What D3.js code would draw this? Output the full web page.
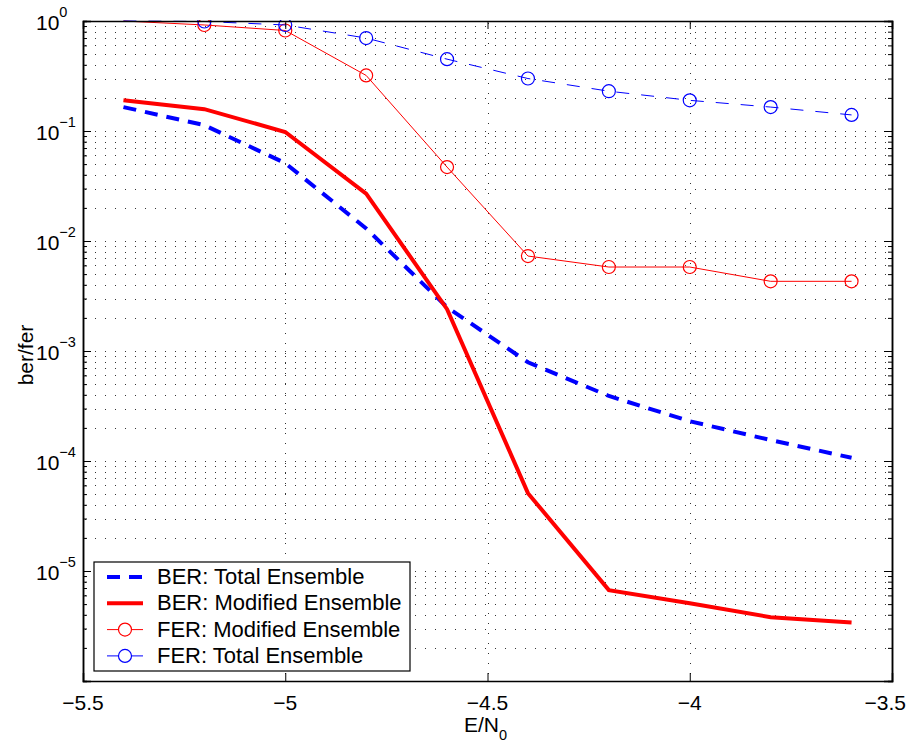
<!DOCTYPE html>
<html>
<head>
<meta charset="utf-8">
<script src="https://cdn.jsdelivr.net/npm/d3@7"></script>
<style>
  html, body { margin: 0; padding: 0; background: #fff; }
  svg text { font-family: "Liberation Sans", Arial, Helvetica, sans-serif; fill: #000; }
</style>
</head>
<body>
<svg id="chart" width="910" height="744"></svg>
<script>
// E/N0 sample points
var ebno = [-5.4, -5.2, -5.0, -4.8, -4.6, -4.4, -4.2, -4.0, -3.8, -3.6];

var berTotal    = [0.165, 0.113, 0.051, 0.013, 0.0025, 0.00079, 0.00039, 0.00023, 0.000155, 0.000107];
var berModified = [0.19, 0.158, 0.098, 0.027, 0.0024, 0.000051, 0.0000067, 0.0000051, 0.0000038, 0.0000034];
var ferModified = [1.0, 0.92, 0.82, 0.32, 0.047, 0.0073, 0.0058, 0.0058, 0.0043, 0.0043];
var ferTotal    = [1.0, 0.99, 0.92, 0.70, 0.45, 0.30, 0.23, 0.19, 0.165, 0.14];

var xTicks = [-5.5, -5, -4.5, -4, -3.5];
var yExponents = [0, -1, -2, -3, -4, -5, -6];

var seriesNames = ["BER: Total Ensemble", "BER: Modified Ensemble", "FER: Modified Ensemble", "FER: Total Ensemble"];

var pLeft = 83, pRight = 892, pTop = 21, pBottom = 681;

var svg = d3.select("#chart");

var x = d3.scaleLinear().domain([-5.5, -3.5]).range([pLeft, pRight]);
var y = d3.scaleLog().domain([1e-6, 1]).range([pBottom, pTop]);

// minor tick values for the log axis (2..9 in each decade)
var minorVals = [];
for (var d = -6; d < 0; d++) {
    for (var k = 2; k <= 9; k++) {
        minorVals.push(k * Math.pow(10, d));
    }
}
var majorVals = yExponents.map(function(e) { return Math.pow(10, e); });

// dotted grid
var grid = svg.append("g").attr("class", "grid")
    .attr("stroke", "#333")
    .attr("stroke-width", 1)
    .attr("stroke-dasharray", "1,9");

grid.selectAll("line.h")
    .data(minorVals.concat(majorVals.filter(function(v) { return v < 1 && v > 1e-6; })))
    .enter().append("line")
    .attr("x1", pLeft + 2).attr("x2", pRight)
    .attr("y1", function(v) { return Math.round(y(v)) + 0.5; })
    .attr("y2", function(v) { return Math.round(y(v)) + 0.5; });

grid.selectAll("line.v")
    .data(xTicks.slice(1, -1))
    .enter().append("line")
    .attr("y1", pTop + 2).attr("y2", pBottom)
    .attr("x1", function(v) { return Math.round(x(v)) + 0.5; })
    .attr("x2", function(v) { return Math.round(x(v)) + 0.5; });

// data lines
svg.append("clipPath").attr("id", "plotClip")
    .append("rect").attr("x", pLeft).attr("y", pTop - 1).attr("width", pRight - pLeft).attr("height", pBottom - pTop + 1);

var line = d3.line()
    .x(function(d) { return x(d[0]); })
    .y(function(d) { return y(d[1]); });

var series = [
    { values: berTotal,    color: "#0000ff", width: 4, dash: "13,9",  marker: false },
    { values: berModified, color: "#ff0000", width: 4, dash: null,    marker: false },
    { values: ferModified, color: "#ff0000", width: 1, dash: null,    marker: true },
    { values: ferTotal,    color: "#0000ff", width: 1, dash: "13,12", marker: true }
];

var plot = svg.append("g").attr("clip-path", "url(#plotClip)");

series.forEach(function(s) {
    var pts = ebno.map(function(e, i) { return [e, s.values[i]]; });
    plot.append("path")
        .datum(pts)
        .attr("fill", "none")
        .attr("stroke", s.color)
        .attr("stroke-width", s.width)
        .attr("stroke-dasharray", s.dash)
        .attr("d", line);
    if (s.marker) {
        plot.selectAll(null)
            .data(pts.filter(function(p) { return p[1] < 1; }))
            .enter().append("circle")
            .attr("cx", function(p) { return x(p[0]); })
            .attr("cy", function(p) { return y(p[1]); })
            .attr("r", 6.5)
            .attr("fill", "none")
            .attr("stroke", s.color)
            .attr("stroke-width", 1.2);
    }
});

// axes (ticks point inward, box all round)
var axes = svg.append("g").attr("class", "axes");

axes.append("g")
    .attr("transform", "translate(0," + pBottom + ")")
    .call(d3.axisBottom(x).tickValues(xTicks).tickSize(-8).tickFormat(""));
axes.append("g")
    .attr("transform", "translate(0," + pTop + ")")
    .call(d3.axisTop(x).tickValues(xTicks).tickSize(-8).tickFormat(""));
axes.append("g")
    .attr("transform", "translate(" + pLeft + ",0)")
    .call(d3.axisLeft(y).tickValues(majorVals).tickSize(-8).tickFormat(""));
axes.append("g")
    .attr("transform", "translate(" + pLeft + ",0)")
    .call(d3.axisLeft(y).tickValues(minorVals).tickSize(-4).tickFormat(""));
axes.append("g")
    .attr("transform", "translate(" + pRight + ",0)")
    .call(d3.axisRight(y).tickValues(majorVals).tickSize(-8).tickFormat(""));
axes.append("g")
    .attr("transform", "translate(" + pRight + ",0)")
    .call(d3.axisRight(y).tickValues(minorVals).tickSize(-4).tickFormat(""));

axes.selectAll("path.domain").attr("stroke", "#000").attr("stroke-width", 1.5);
axes.selectAll(".tick line").attr("stroke", "#000").attr("stroke-width", 1);

// x tick labels
svg.append("g").selectAll("text")
    .data(xTicks)
    .enter().append("text")
    .attr("x", function(v, i) { return i === xTicks.length - 1 ? 906 : x(v); })
    .attr("y", 710)
    .attr("text-anchor", function(v, i) { return i === xTicks.length - 1 ? "end" : "middle"; })
    .attr("font-size", 21)
    .text(function(v) { return String(v).replace("-", "\u2212"); });

// y tick labels: 10 with superscript exponent
var yl = svg.append("g").selectAll("text")
    .data(yExponents.slice(0, 6))
    .enter().append("text")
    .attr("x", 36)
    .attr("y", function(e) { return y(Math.pow(10, e)) + 9; })
    .attr("font-size", 21);
yl.append("tspan").text("10");
yl.append("tspan")
    .attr("font-size", 14.5)
    .attr("dy", -13.5)
    .text(function(e) { return e === 0 ? "0" : "\u2212" + Math.abs(e); });

// axis titles
var xt = svg.append("text")
    .attr("x", x(-4.5) - 2)
    .attr("y", 732)
    .attr("text-anchor", "middle")
    .attr("font-size", 21);
xt.append("tspan").text("E/N");
xt.append("tspan").attr("font-size", 14.5).attr("dy", 8).text("0");

svg.append("text")
    .attr("transform", "translate(33,355) rotate(-90)")
    .attr("text-anchor", "middle")
    .attr("font-size", 21)
    .text("ber/fer");

// legend
var legend = svg.append("g").attr("transform", "translate(94,562)");
legend.append("rect")
    .attr("width", 316).attr("height", 109)
    .attr("fill", "#fff").attr("stroke", "#000").attr("stroke-width", 1.2);

var item = legend.selectAll("g.item")
    .data(series)
    .enter().append("g")
    .attr("transform", function(d, i) { return "translate(0," + (15 + i * 26.3) + ")"; });

item.append("line")
    .attr("x1", 13).attr("x2", 49)
    .attr("stroke", function(d) { return d.color; })
    .attr("stroke-width", function(d) { return d.width; })
    .attr("stroke-dasharray", function(d) { return d.width > 1 ? d.dash : null; });

item.filter(function(d) { return d.marker; })
    .append("circle")
    .attr("cx", 31).attr("r", 6.5)
    .attr("fill", "#fff")
    .attr("stroke", function(d) { return d.color; })
    .attr("stroke-width", 1.2);

item.append("text")
    .attr("x", 63).attr("y", 7)
    .attr("font-size", 22)
    .text(function(d, i) { return seriesNames[i]; });
</script>
</body>
</html>
